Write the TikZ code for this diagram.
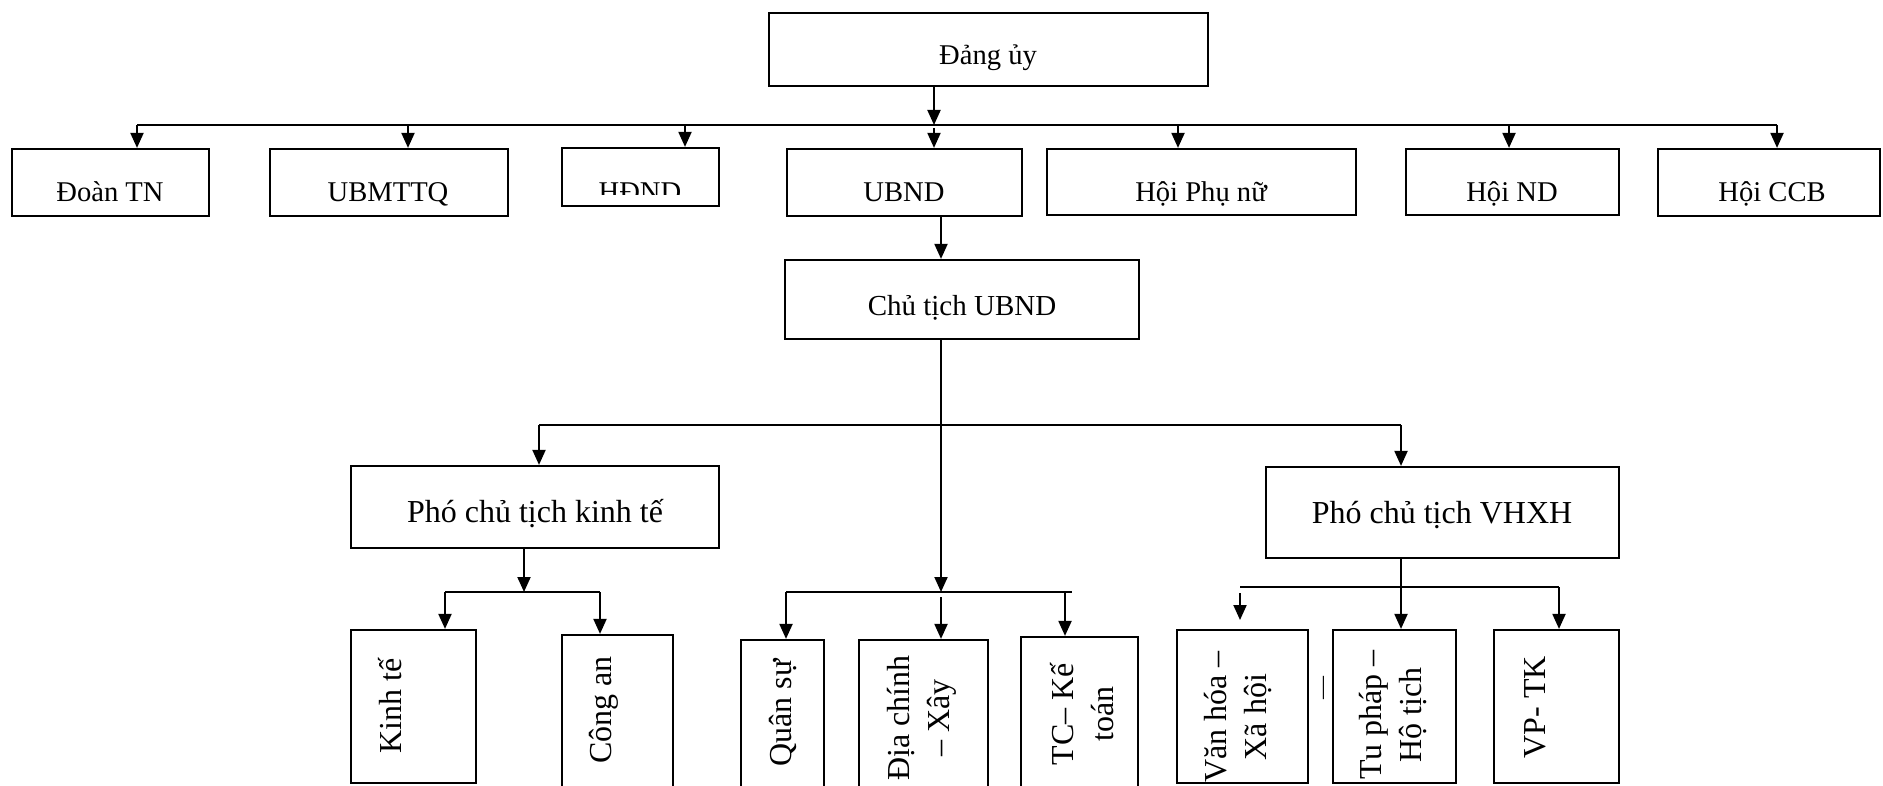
\documentclass[tikz,border=0pt]{standalone}
\usepackage{fontspec}
\setmainfont{Liberation Serif}
\usetikzlibrary{arrows.meta,fit}

\tikzset{
  box/.style={draw, line width=1.1pt, inner sep=0pt},
  arr/.style={-{Triangle[width=6.5pt,length=7.5pt]}, line width=1pt},
  rowtext/.style={anchor=base, inner sep=0pt, font=\fontsize{14.3}{17}\selectfont},
  midtext/.style={anchor=base, inner sep=0pt, font=\fontsize{16}{19}\selectfont},
  vtext/.style={rotate=90, align=center, inner sep=0pt, font=\fontsize{16}{20}\selectfont},
}

\begin{document}
\begin{tikzpicture}[x=0.5pt, y=-0.5pt]
        \useasboundingbox (0,0) rectangle (1883,786);

        % Top level
        \node[box, fit={(769,13) (1208,86)}] (dang) {};
        \node[rowtext] (dang-t) at (988,65) {Đảng ủy};

        % Organisations
        \node[box, fit={(12,149) (209,216)}] (doan) {};
        \node[box, fit={(270,149) (508,216)}] (mttq) {};
        \node[box, fit={(562,148) (719,206)}] (hdnd) {};
        \node[box, fit={(787,149) (1022,216)}] (ubnd) {};
        \node[box, fit={(1047,149) (1356,215)}] (phunu) {};
        \node[box, fit={(1406,149) (1619,215)}] (hoind) {};
        \node[box, fit={(1658,149) (1880,216)}] (ccb) {};

        \node[rowtext] (doan-t) at (110,202) {Đoàn TN};
        \node[rowtext] (mttq-t) at (388,202) {UBMTTQ};
        \begin{scope}
            \clip (hdnd.north west) rectangle (719,195);
            \node[rowtext] (hdnd-t) at (640,202) {HĐND};
        \end{scope}
        \node[rowtext] (ubnd-t) at (904,202) {UBND};
        \node[rowtext] (phunu-t) at (1201,202) {Hội Phụ nữ};
        \node[rowtext] (hoind-t) at (1512,202) {Hội ND};
        \node[rowtext] (ccb-t) at (1772,202) {Hội CCB};

        % Chairman and vice chairmen
        \node[box, fit={(785,260) (1139,339)}] (chu) {};
        \node[box, fit={(351,466) (719,548)}] (pkt) {};
        \node[box, fit={(1266,467) (1619,558)}] (pvh) {};
        \node[rowtext, font=\fontsize{14.5}{17}\selectfont] (chu-t) at (962,315) {Chủ tịch UBND};
        \node[midtext] (pkt-t) at (535,522) {Phó chủ tịch kinh tế};
        \node[midtext] (pvh-t) at (1442,523) {Phó chủ tịch VHXH};

        % Departments
        \node[box, fit={(351,630) (476,783)}] (kinhte) {};
        \node[box, fit={(562,635) (673,800)}] (congan) {};
        \node[box, fit={(741,640) (824,800)}] (quansu) {};
        \node[box, fit={(859,640) (988,800)}] (diachinh) {};
        \node[box, fit={(1021,637) (1138,800)}] (tc) {};
        \node[box, fit={(1177,630) (1308,783)}] (vanhoa) {};
        \node[box, fit={(1333,630) (1456,783)}] (tuphap) {};
        \node[box, fit={(1494,630) (1619,783)}] (vptk) {};

        \node[vtext] (kinhte-t) at (390,706) {Kinh tế};
        \node[vtext] (congan-t) at (604,710) {Công an};
        \node[vtext] (quansu-t) at (783,713) {Quân sự};
        \node[vtext] (diachinh-t) at (922,718) {Địa chính\\– Xây};
        \node[vtext] (tc-t) at (1082,714) {TC– Kế\\toán};
        \node[vtext] (vanhoa-t) at (1238,717) {Văn hóa –\\Xã hội};
        \node[vtext] (tuphap-t) at (1393,715) {Tu pháp –\\Hộ tịch};
        \node[vtext] (vptk-t) at (1535,707) {VP- TK};
        \node[vtext, font=\fontsize{11.5}{12}\selectfont] (dash-t) at (1326,688) {—};

        % Top bus
        \coordinate (t-doan) at (137,125);
        \coordinate (t-mttq) at (408,125);
        \coordinate (t-hdnd) at (685,125);
        \coordinate (t-ubnd) at (934,125);
        \coordinate (t-phunu) at (1178,125);
        \coordinate (t-hoind) at (1509,125);
        \coordinate (t-ccb) at (1777,125);

        \draw[line width=1pt] (t-doan) -- (t-ccb);
        \draw[arr] (dang.south -| t-ubnd) -- (t-ubnd);
        \draw[arr] (t-doan) -- (t-doan |- doan.north);
        \draw[arr] (t-mttq) -- (t-mttq |- mttq.north);
        \draw[arr] (t-hdnd) -- (t-hdnd |- hdnd.north);
        \draw[arr] ([yshift=-1.5pt]t-ubnd) -- (t-ubnd |- ubnd.north);
        \draw[arr] (t-phunu) -- (t-phunu |- phunu.north);
        \draw[arr] (t-hoind) -- (t-hoind |- hoind.north);
        \draw[arr] (t-ccb) -- (t-ccb |- ccb.north);

        % Spine from UBND
        \coordinate (sp) at (941,592);
        \draw[arr] (ubnd.south -| sp) -- (chu.north -| sp);
        \draw[arr] (chu.south -| sp) -- (sp);

        % Vice chairmen bus
        \coordinate (m-l) at (539,425);
        \coordinate (m-r) at (1401,425);
        \draw[line width=1pt] (m-l) -- (m-r);
        \draw[arr] (m-l) -- (m-l |- pkt.north);
        \draw[arr] (m-r) -- (m-r |- pvh.north);

        % Middle departments
        \coordinate (c-l) at (786,592);
        \coordinate (c-r) at (1072,592);
        \coordinate (c-tc) at (1065,592);
        \draw[line width=1pt] (c-l) -- (c-r);
        \draw[arr] (c-l) -- (c-l |- quansu.north);
        \draw[arr] ([yshift=-2.5pt]sp) -- (sp |- diachinh.north);
        \draw[arr] (c-tc) -- (c-tc |- tc.north);

        % Economic departments
        \coordinate (l-j) at (524,592);
        \coordinate (l-l) at (445,592);
        \coordinate (l-r) at (600,592);
        \draw[arr] (pkt.south -| l-j) -- (l-j);
        \draw[line width=1pt] (l-l) -- (l-r);
        \draw[arr] (l-l) -- (l-l |- kinhte.north);
        \draw[arr] (l-r) -- (l-r |- congan.north);

        % Social departments
        \coordinate (r-l) at (1240,587);
        \coordinate (r-r) at (1559,587);
        \coordinate (r-va) at (1240,620);
        \draw[line width=1pt] (r-l) -- (r-r);
        \draw[arr] (pvh.south -| m-r) -- (m-r |- tuphap.north);
        \draw[arr] ([yshift=-3pt]r-l) -- (r-va);
        \draw[arr] (r-r) -- (r-r |- vptk.north);
\end{tikzpicture}
\end{document}
